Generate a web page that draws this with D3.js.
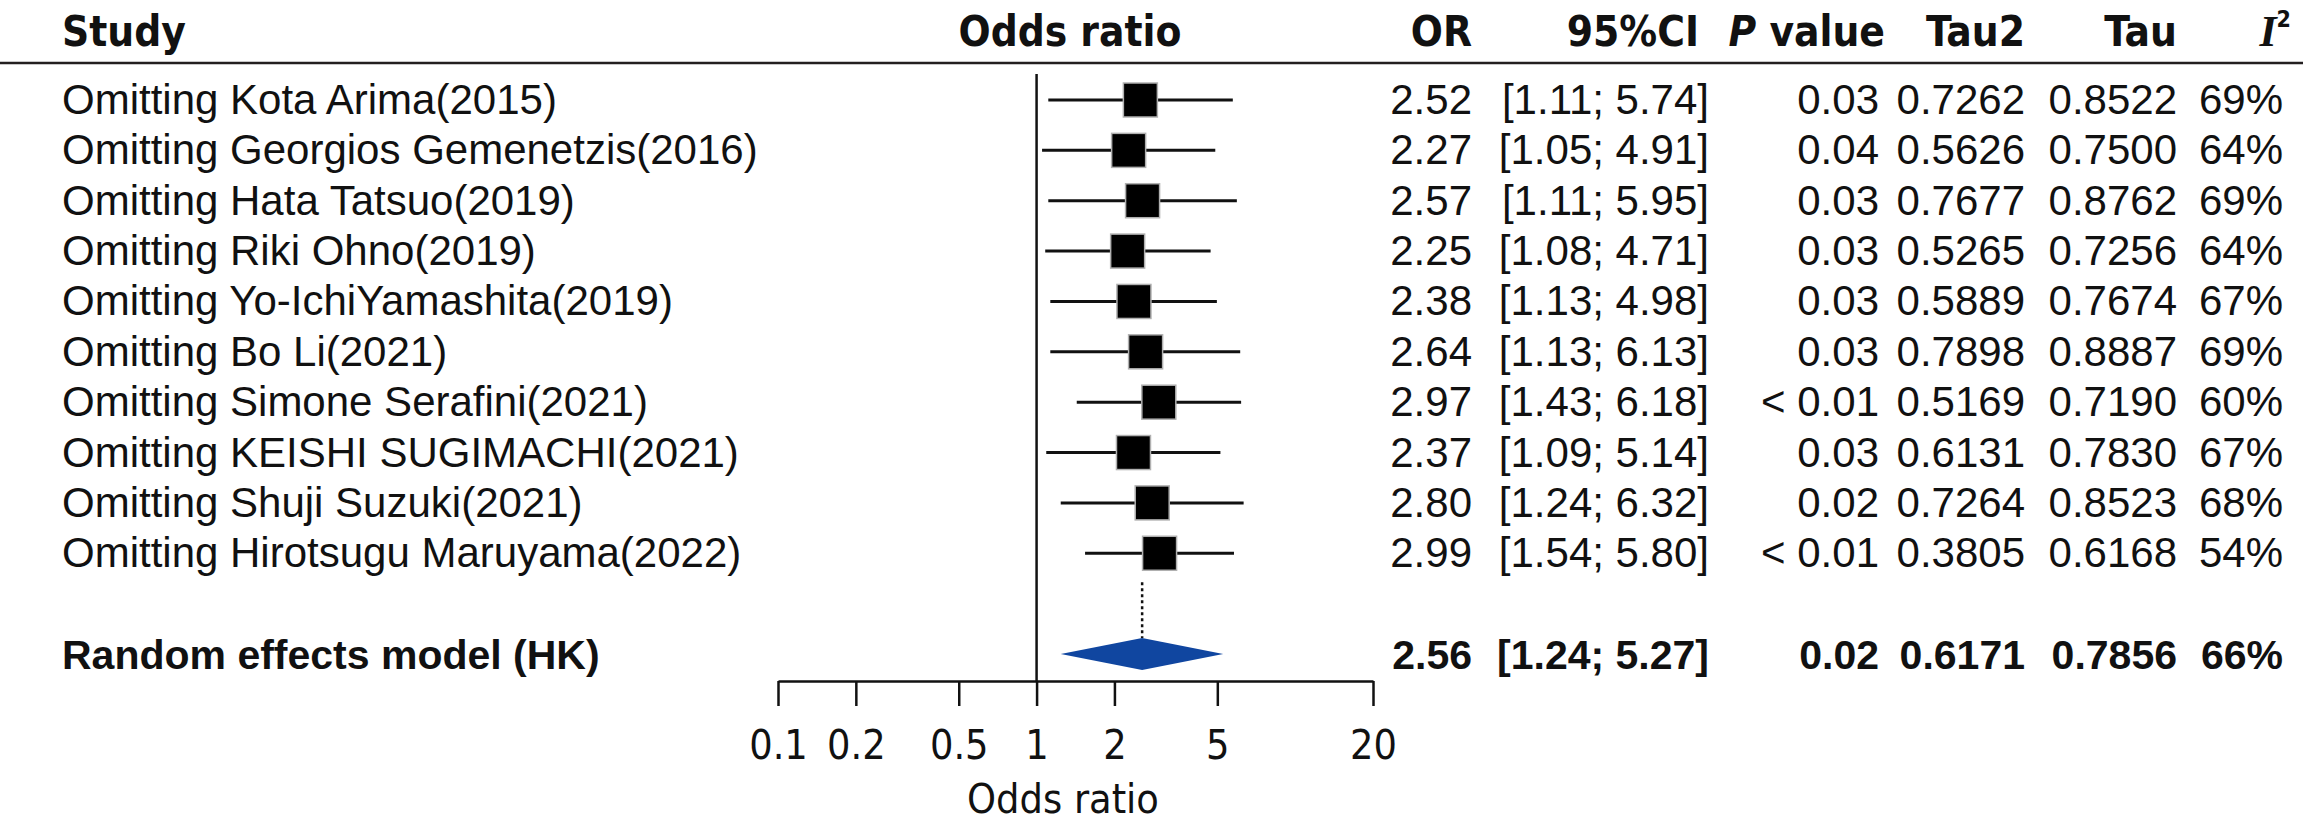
<!DOCTYPE html>
<html>
<head>
<meta charset="utf-8">
<script src="https://cdn.jsdelivr.net/npm/d3@7"></script>
<style>
  body { margin: 0; background: #ffffff; }
  svg { display: block; }
</style>
</head>
<body>
<svg id="forest_svg" width="2303" height="831"></svg>
<script>
// leave-one-out table
var studies = [
  "Omitting Kota Arima(2015)",
  "Omitting Georgios Gemenetzis(2016)",
  "Omitting Hata Tatsuo(2019)",
  "Omitting Riki Ohno(2019)",
  "Omitting Yo-IchiYamashita(2019)",
  "Omitting Bo Li(2021)",
  "Omitting Simone Serafini(2021)",
  "Omitting KEISHI SUGIMACHI(2021)",
  "Omitting Shuji Suzuki(2021)",
  "Omitting Hirotsugu Maruyama(2022)"
];
var oddsRatio = [2.52, 2.27, 2.57, 2.25, 2.38, 2.64, 2.97, 2.37, 2.80, 2.99];
var ciLower = [1.11, 1.05, 1.11, 1.08, 1.13, 1.13, 1.43, 1.09, 1.24, 1.54];
var ciUpper = [5.74, 4.91, 5.95, 4.71, 4.98, 6.13, 6.18, 5.14, 6.32, 5.80];
var pValues = ["0.03", "0.04", "0.03", "0.03", "0.03", "0.03", "< 0.01", "0.03", "0.02", "< 0.01"];
var tau2 = ["0.7262", "0.5626", "0.7677", "0.5265", "0.5889", "0.7898", "0.5169", "0.6131", "0.7264", "0.3805"];
var tau = ["0.8522", "0.7500", "0.8762", "0.7256", "0.7674", "0.8887", "0.7190", "0.7830", "0.8523", "0.6168"];
var i2 = ["69%", "64%", "69%", "64%", "67%", "69%", "60%", "67%", "68%", "54%"];

var summaryLabel = "Random effects model (HK)";
var summaryOR = 2.56;
var summaryLower = 1.24;
var summaryUpper = 5.27;
var summaryStats = ["0.02", "0.6171", "0.7856", "66%"];

var axisTicks = [0.1, 0.2, 0.5, 1, 2, 5, 20];

var svg = d3.select("#forest_svg");
var bodyFont = "'Liberation Sans', Arial, sans-serif";
var headFont = "'DejaVu Sans Condensed', 'DejaVu Sans', sans-serif";
var ink = "#111111";

var x = d3.scaleLog().domain([0.1, 20]).range([778, 1373]);
var y = d3.scaleLinear().domain([0, 11]).range([100, 654]);
var axisY = 681;

// column right edges
var colOR = 1472, colCI = 1709, colP = 1879, colTau2 = 2025, colTau = 2177, colI2 = 2283;

drawForest();

function drawForest() {
  // header
  var head = svg.append("g")
    .attr("font-family", headFont)
    .attr("font-weight", "bold")
    .attr("font-size", "42px")
    .attr("fill", ink);
  head.append("text").attr("x", 62).attr("y", 46).text("Study");
  head.append("text").attr("x", 1070).attr("y", 46).attr("text-anchor", "middle").text("Odds ratio");
  head.append("text").attr("x", colOR).attr("y", 46).attr("text-anchor", "end").text("OR");
  head.append("text").attr("x", 1699).attr("y", 46).attr("text-anchor", "end").text("95%CI");
  var pHead = head.append("text").attr("x", 1885).attr("y", 46).attr("text-anchor", "end");
  pHead.append("tspan").attr("font-style", "italic").text("P");
  pHead.append("tspan").text(" value");
  head.append("text").attr("x", colTau2).attr("y", 46).attr("text-anchor", "end").text("Tau2");
  head.append("text").attr("x", colTau).attr("y", 46).attr("text-anchor", "end").text("Tau");
  var iHead = head.append("text").attr("x", 2291).attr("y", 46).attr("text-anchor", "end");
  iHead.append("tspan")
    .attr("font-style", "italic")
    .attr("font-family", "'Liberation Serif', 'DejaVu Serif', serif")
    .attr("font-size", "44px")
    .text("I");
  iHead.append("tspan").attr("font-size", "23px").attr("dy", -19).text("2");

  svg.append("line")
    .attr("x1", 0).attr("x2", 2303)
    .attr("y1", 63).attr("y2", 63)
    .attr("stroke", "#231f20")
    .attr("stroke-width", 2.5);

  // reference line at OR = 1
  svg.append("line")
    .attr("x1", x(1)).attr("x2", x(1))
    .attr("y1", 74).attr("y2", axisY)
    .attr("stroke", ink)
    .attr("stroke-width", 2.5);

  // summary dotted line
  svg.append("line")
    .attr("x1", x(summaryOR)).attr("x2", x(summaryOR))
    .attr("y1", y(9) + 29).attr("y2", y(11) - 16)
    .attr("stroke", ink)
    .attr("stroke-width", 2.5)
    .attr("stroke-dasharray", "3,3");

  var rows = svg.selectAll(".study")
    .data(studies)
    .enter()
    .append("g")
    .attr("class", "study");

  rows.append("line")
    .attr("x1", function (d, i) { return x(ciLower[i]); })
    .attr("x2", function (d, i) { return x(ciUpper[i]); })
    .attr("y1", function (d, i) { return y(i); })
    .attr("y2", function (d, i) { return y(i); })
    .attr("stroke", ink)
    .attr("stroke-width", 3);

  rows.append("rect")
    .attr("x", function (d, i) { return x(oddsRatio[i]) - 17; })
    .attr("y", function (d, i) { return y(i) - 17; })
    .attr("width", 34)
    .attr("height", 34)
    .attr("fill", "#000000")
    .attr("stroke", "#b0b0b0")
    .attr("stroke-width", 1.5);

  var cells = [
    { x: 62, anchor: "start", get: function (i) { return studies[i]; } },
    { x: colOR, anchor: "end", get: function (i) { return oddsRatio[i].toFixed(2); } },
    { x: colCI, anchor: "end", get: function (i) { return "[" + ciLower[i].toFixed(2) + "; " + ciUpper[i].toFixed(2) + "]"; } },
    { x: colP, anchor: "end", get: function (i) { return pValues[i]; } },
    { x: colTau2, anchor: "end", get: function (i) { return tau2[i]; } },
    { x: colTau, anchor: "end", get: function (i) { return tau[i]; } },
    { x: colI2, anchor: "end", get: function (i) { return i2[i]; } }
  ];

  cells.forEach(function (c) {
    rows.append("text")
      .attr("x", c.x)
      .attr("y", function (d, i) { return y(i) + 14; })
      .attr("text-anchor", c.anchor)
      .attr("font-family", bodyFont)
      .attr("font-size", "42px")
      .attr("fill", ink)
      .text(function (d, i) { return c.get(i); });
  });

  // summary row
  var sy = y(11);
  svg.append("path")
    .attr("d", "M" + x(summaryLower) + "," + sy +
      "L" + x(summaryOR) + "," + (sy - 16) +
      "L" + x(summaryUpper) + "," + sy +
      "L" + x(summaryOR) + "," + (sy + 16) + "Z")
    .attr("fill", "#1046a0");

  var sumCells = [
    [62, "start", summaryLabel],
    [colOR, "end", summaryOR.toFixed(2)],
    [colCI, "end", "[" + summaryLower.toFixed(2) + "; " + summaryUpper.toFixed(2) + "]"],
    [colP, "end", summaryStats[0]],
    [colTau2, "end", summaryStats[1]],
    [colTau, "end", summaryStats[2]],
    [colI2, "end", summaryStats[3]]
  ];
  svg.selectAll(".sumtext")
    .data(sumCells)
    .enter()
    .append("text")
    .attr("x", function (d) { return d[0]; })
    .attr("y", sy + 15)
    .attr("text-anchor", function (d) { return d[1]; })
    .attr("font-family", bodyFont)
    .attr("font-weight", "bold")
    .attr("font-size", "41px")
    .attr("fill", ink)
    .text(function (d) { return d[2]; });

  // x axis
  var axis = svg.append("g")
    .attr("transform", "translate(0," + axisY + ")")
    .call(d3.axisBottom(x)
      .tickValues(axisTicks)
      .tickFormat(function (d) { return String(d); })
      .tickSize(25)
      .tickSizeOuter(0)
      .tickPadding(24));
  axis.select(".domain").attr("stroke", ink).attr("stroke-width", 2.5);
  axis.selectAll(".tick line").attr("stroke", ink).attr("stroke-width", 2.5);
  axis.selectAll(".tick text")
    .attr("font-family", headFont)
    .attr("font-size", "41px")
    .attr("fill", ink);

  svg.append("text")
    .attr("x", 1063)
    .attr("y", 813)
    .attr("text-anchor", "middle")
    .attr("font-family", headFont)
    .attr("font-size", "41px")
    .attr("fill", ink)
    .text("Odds ratio");
}
</script>
</body>
</html>
